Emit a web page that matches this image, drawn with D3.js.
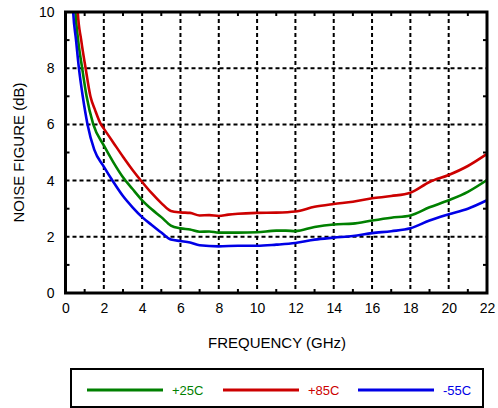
<!DOCTYPE html>
<html>
<head>
<meta charset="utf-8">
<script src="https://cdn.jsdelivr.net/npm/d3@7/dist/d3.min.js"></script>
<style>
  html, body { margin: 0; padding: 0; background: #fff; }
  svg { display: block; }
  text { font-family: "Liberation Sans", Arial, sans-serif; }
</style>
</head>
<body>
<script>
// ---- data ----
const xTicks = [0, 2, 4, 6, 8, 10, 12, 14, 16, 18, 20, 22];
const yTicks = [0, 2, 4, 6, 8, 10];
const xMinor = [1, 3, 5, 7, 9, 11, 13, 15, 17, 19, 21];
const yMinor = [1, 3, 5, 7, 9];

const seriesNames = ["+25C", "+85C", "-55C"];
const seriesColors = ["#008000", "#cc0000", "#0000e6"];

const freqGreen = [0.45, 0.52, 0.66, 0.87, 1.1, 1.45, 2, 2.5, 3, 3.5, 4, 4.5, 5, 5.5, 6, 6.5, 7, 7.5, 8, 9, 10, 11, 11.5, 12, 13, 14, 15, 16, 17, 18, 19, 20, 21, 22];
const nfGreen   = [11, 10, 9, 8, 7, 6, 5.25, 4.65, 4.12, 3.7, 3.3, 2.98, 2.7, 2.4, 2.3, 2.26, 2.18, 2.19, 2.15, 2.15, 2.16, 2.22, 2.22, 2.2, 2.35, 2.44, 2.47, 2.58, 2.68, 2.76, 3.05, 3.3, 3.6, 4.02];

const freqRed = [0.57, 0.64, 0.82, 1.05, 1.3, 1.55, 1.85, 2, 2.5, 3, 3.5, 4, 4.5, 5, 5.5, 6, 6.5, 7, 7.5, 8, 8.5, 9, 10, 11, 12, 13, 14, 15, 16, 17, 18, 19, 20, 21, 22];
const nfRed   = [11, 10, 9, 8, 7, 6.5, 6, 5.85, 5.35, 4.85, 4.38, 3.95, 3.55, 3.2, 2.92, 2.87, 2.85, 2.76, 2.77, 2.74, 2.79, 2.82, 2.85, 2.86, 2.9, 3.07, 3.17, 3.25, 3.37, 3.45, 3.57, 3.95, 4.2, 4.52, 4.95];

const freqBlue = [0.33, 0.4, 0.55, 0.7, 0.9, 1.15, 1.5, 2, 2.5, 3, 3.5, 4, 4.5, 5, 5.5, 6, 6.5, 7, 8, 9, 10, 11, 12, 13, 14, 15, 16, 17, 18, 19, 20, 21, 22];
const nfBlue   = [11, 10, 9, 8, 7, 6, 5.1, 4.5, 3.95, 3.45, 3.05, 2.7, 2.42, 2.15, 1.9, 1.85, 1.8, 1.7, 1.66, 1.68, 1.68, 1.72, 1.78, 1.9, 1.97, 2.03, 2.13, 2.2, 2.3, 2.58, 2.8, 3.0, 3.3];

const series = [
  { name: seriesNames[0], color: seriesColors[0], f: freqGreen, v: nfGreen },
  { name: seriesNames[1], color: seriesColors[1], f: freqRed,   v: nfRed },
  { name: seriesNames[2], color: seriesColors[2], f: freqBlue,  v: nfBlue }
];

// ---- layout ----
const W = 498, H = 408;
const pL = 65.5, pR = 487, pT = 12, pB = 293;

const svg = d3.select("body").append("svg").attr("width", W).attr("height", H);

const x = d3.scaleLinear().domain([0, 22]).range([pL, pR]);
const y = d3.scaleLinear().domain([0, 10]).range([pB, pT]);

// clip
svg.append("defs").append("clipPath").attr("id", "plotclip")
  .append("rect").attr("x", pL).attr("y", pT).attr("width", pR - pL).attr("height", pB - pT);

// grid
const grid = svg.append("g");
grid.selectAll("line.vg").data(xTicks.filter(d => d > 0 && d < 22)).enter().append("line")
  .attr("x1", d => x(d)).attr("x2", d => x(d)).attr("y1", pT).attr("y2", pB)
  .attr("stroke", "#000").attr("stroke-width", 2).attr("stroke-dasharray", "4,3");
grid.selectAll("line.hg").data(yTicks.filter(d => d > 0 && d < 10)).enter().append("line")
  .attr("x1", pL).attr("x2", pR).attr("y1", d => y(d)).attr("y2", d => y(d))
  .attr("stroke", "#000").attr("stroke-width", 2).attr("stroke-dasharray", "4,3");

// minor ticks (inward, all sides)
const tl = 4;
const mt = svg.append("g").attr("stroke", "#000").attr("stroke-width", 2);
xMinor.forEach(d => {
  mt.append("line").attr("x1", x(d)).attr("x2", x(d)).attr("y1", pB).attr("y2", pB - tl);
  mt.append("line").attr("x1", x(d)).attr("x2", x(d)).attr("y1", pT).attr("y2", pT + tl);
});
yMinor.forEach(d => {
  mt.append("line").attr("x1", pL).attr("x2", pL + tl).attr("y1", y(d)).attr("y2", y(d));
  mt.append("line").attr("x1", pR).attr("x2", pR - tl).attr("y1", y(d)).attr("y2", y(d));
});

// curves
const line = d3.line().x(d => x(d[0])).y(d => y(d[1])).curve(d3.curveMonotoneX);
const curves = svg.append("g").attr("clip-path", "url(#plotclip)");
series.forEach(s => {
  curves.append("path")
    .datum(s.f.map((f, i) => [f, s.v[i]]))
    .attr("fill", "none").attr("stroke", s.color).attr("stroke-width", 2.6)
    .attr("stroke-linejoin", "round")
    .attr("d", line);
});

// frame
svg.append("rect").attr("x", pL).attr("y", pT).attr("width", pR - pL).attr("height", pB - pT)
  .attr("fill", "none").attr("stroke", "#000").attr("stroke-width", 3);

// axes labels via d3 axes (no lines)
const xAxis = svg.append("g").attr("transform", `translate(0,${pB + 6})`)
  .call(d3.axisBottom(x).tickValues(xTicks).tickSize(0).tickPadding(0));
xAxis.select(".domain").remove();
xAxis.selectAll("text").attr("font-size", 14).attr("fill", "#000")
  .attr("font-family", "Liberation Sans, Arial, sans-serif").attr("dy", "1em");

const yAxis = svg.append("g").attr("transform", `translate(${pL - 11},0)`)
  .call(d3.axisLeft(y).tickValues(yTicks).tickSize(0).tickPadding(0));
yAxis.select(".domain").remove();
yAxis.selectAll("text").attr("font-size", 14).attr("fill", "#000")
  .attr("font-family", "Liberation Sans, Arial, sans-serif");

// axis titles
svg.append("text").attr("x", 277).attr("y", 348).attr("text-anchor", "middle")
  .attr("font-size", 15).attr("fill", "#000").text("FREQUENCY (GHz)");
svg.append("text").attr("transform", `translate(24,${(pT + pB) / 2}) rotate(-90)`)
  .attr("text-anchor", "middle").attr("font-size", 15).attr("fill", "#000").text("NOISE FIGURE (dB)");

// legend
const lg = svg.append("g");
lg.append("rect").attr("x", 71).attr("y", 369).attr("width", 412).attr("height", 38)
  .attr("fill", "#fff").attr("stroke", "#000").attr("stroke-width", 2);
const legX = [87, 223, 358];
series.forEach((s, i) => {
  lg.append("line").attr("x1", legX[i]).attr("x2", legX[i] + 76).attr("y1", 390).attr("y2", 390)
    .attr("stroke", s.color).attr("stroke-width", 3);
  lg.append("text").attr("x", legX[i] + 85).attr("y", 394.5).attr("font-size", 13)
    .attr("fill", s.color).text(s.name);
});
</script>
</body>
</html>
